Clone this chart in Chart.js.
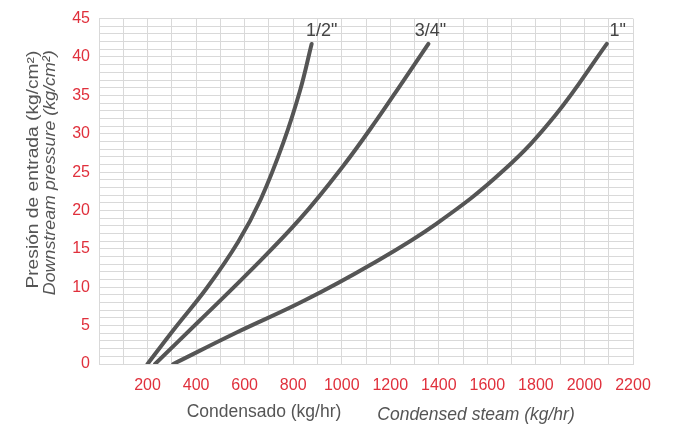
<!DOCTYPE html>
<html>
<head>
<meta charset="utf-8">
<script src="https://cdn.jsdelivr.net/npm/chart.js@4"></script>
<style>
  html, body { margin: 0; padding: 0; background: #fff; }
  #wrap { width: 678px; height: 426px; }
</style>
</head>
<body>
<div id="wrap"><canvas id="chart" width="678" height="426"></canvas></div>
<script>
// pipe sizes
const sizes = ['1/2"', '3/4"', '1"'];

// condensed steam (kg/hr) and downstream pressure (kg/cm2)
const halfX = [200, 306, 444, 573, 667, 759, 828, 876];
const halfY = [0, 4.4, 9.9, 15.9, 21.5, 28.8, 35.6, 41.7];

const threeQX = [231, 416, 622, 828, 1006, 1144, 1254, 1357];
const threeQY = [0, 5.7, 12.1, 18.9, 25.8, 31.8, 36.9, 41.7];

const oneX = [306, 567, 842, 1117, 1391, 1666, 1880, 2092];
const oneY = [0, 4.1, 8.2, 12.9, 18.3, 25.2, 32.4, 41.7];

const xTicks = [200, 400, 600, 800, 1000, 1200, 1400, 1600, 1800, 2000, 2200];
const yTicks = [0, 5, 10, 15, 20, 25, 30, 35, 40, 45];

const red = "#e0303c";
const gray = "#555555";
const font = "'Liberation Sans', Arial, sans-serif";

function pts(xs, ys) {
  return xs.map((x, i) => ({ x: x, y: ys[i] }));
}

function makeSet(label, xs, ys) {
  return {
    label: label,
    data: pts(xs, ys),
    borderColor: gray,
    borderWidth: 4,
    borderCapStyle: "round",
    pointRadius: 0,
    tension: 0.4,
    fill: false,
  };
}

// size labels at the top of each curve
const labelShift = [10, 2, 11];
const endLabels = {
  id: "endLabels",
  afterDatasetsDraw(chart) {
    const ctx = chart.ctx;
    ctx.save();
    ctx.font = "18px " + font;
    ctx.fillStyle = "#444";
    ctx.textAlign = "center";
    ctx.textBaseline = "bottom";
    chart.data.datasets.forEach((ds, i) => {
      const p = chart.getDatasetMeta(i).data;
      const last = p[p.length - 1];
      ctx.fillText(ds.label, last.x + labelShift[i], last.y - 4);
    });
    ctx.restore();
  },
};

// bilingual axis titles (second line in italics)
const axisTitles = {
  id: "axisTitles",
  afterDraw(chart) {
    const ctx = chart.ctx;
    const a = chart.chartArea;
    ctx.save();
    ctx.fillStyle = gray;
    ctx.textBaseline = "middle";
    ctx.textAlign = "center";

    ctx.font = "17.5px " + font;
    ctx.fillText("Condensado (kg/hr)", a.left + 165, a.bottom + 48);
    ctx.font = "italic 17.5px " + font;
    ctx.fillText("Condensed steam (kg/hr)", a.left + 377, a.bottom + 51);

    ctx.translate(a.left - 65, a.top + 151);
    ctx.rotate(-Math.PI / 2);
    ctx.save();
    ctx.scale(1.2, 1);
    ctx.font = "16px " + font;
    ctx.fillText("Presión de entrada (kg/cm²)", 0, 0);
    ctx.restore();
    ctx.save();
    ctx.scale(1.05, 1);
    ctx.font = "italic 17px " + font;
    ctx.fillText("Downstream pressure (kg/cm²)", -3, 16);
    ctx.restore();
    ctx.restore();
  },
};

new Chart(document.getElementById("chart"), {
  type: "line",
  data: {
    datasets: [
      makeSet(sizes[0], halfX, halfY),
      makeSet(sizes[1], threeQX, threeQY),
      makeSet(sizes[2], oneX, oneY),
    ],
  },
  options: {
    responsive: false,
    animation: false,
    layout: { padding: { top: 14, right: 45, left: 0, bottom: 0 } },
    plugins: {
      legend: { display: false },
      tooltip: { enabled: false },
    },
    scales: {
      x: {
        type: "linear",
        min: 0,
        max: 2200,
        afterFit(scale) { scale.height = 62; },
        grid: { color: "#d9d9d9", drawTicks: false },
        border: { color: "#d9d9d9" },
        ticks: {
          stepSize: 100,
          autoSkip: false,
          maxRotation: 0,
          maxTicksLimit: 50,
          padding: 12,
          color: red,
          font: { family: font, size: 16 },
          callback: (v) => (xTicks.includes(v) ? String(v) : ""),
        },
      },
      y: {
        min: 0,
        max: 45,
        afterFit(scale) { scale.width = 99; },
        grid: { color: "#d9d9d9", drawTicks: false },
        border: { color: "#d9d9d9" },
        ticks: {
          stepSize: 1,
          autoSkip: false,
          maxTicksLimit: 100,
          padding: 9,
          color: red,
          font: { family: font, size: 16 },
          callback: (v) => (yTicks.includes(v) ? String(v) : ""),
        },
      },
    },
  },
  plugins: [endLabels, axisTitles],
});
</script>
</body>
</html>
